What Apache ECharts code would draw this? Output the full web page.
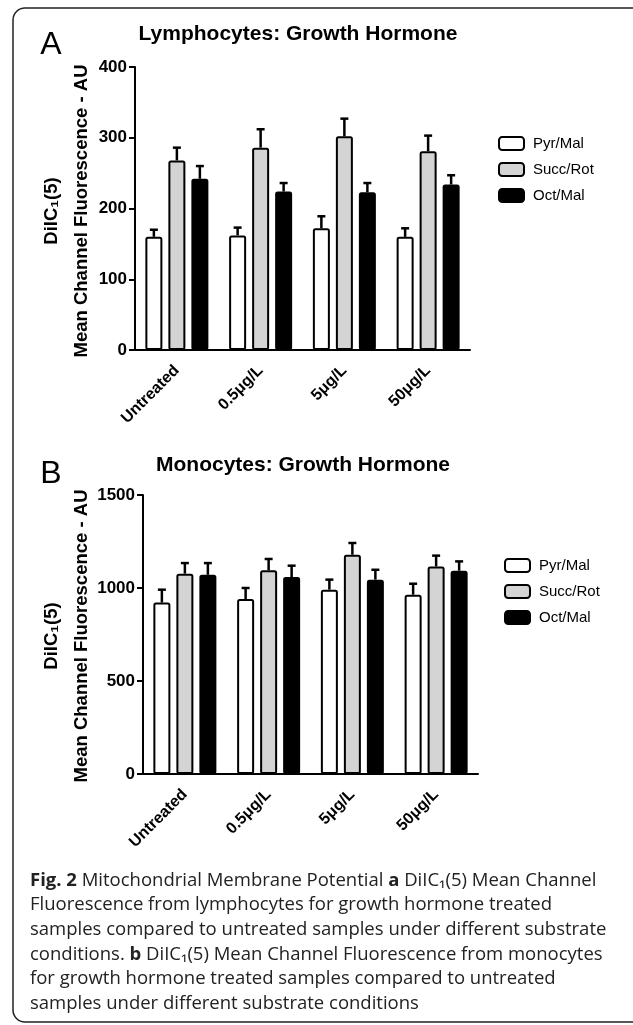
<!DOCTYPE html>
<html>
<head>
<meta charset="utf-8">
<script src="https://cdn.jsdelivr.net/npm/echarts@6/dist/echarts.min.js"></script>
<style>html,body{margin:0;padding:0;background:#fff;}#c{width:633px;height:1025px;}</style>
</head>
<body>
<div id="c"></div>
<script>
// ---- data ----
var categories = ['Untreated', '0.5\u03bcg/L', '5\u03bcg/L', '50\u03bcg/L'];
var seriesNames = ['Pyr/Mal', 'Succ/Rot', 'Oct/Mal'];
// Lymphocytes (A)
var lymphPyr = [160, 162, 172, 160];
var lymphPyrErr = [10, 11, 17, 12];
var lymphSucc = [268, 286, 302, 281];
var lymphSuccErr = [18, 26, 25, 22];
var lymphOct = [242, 224, 223, 234];
var lymphOctErr = [18, 12, 13, 13];
// Monocytes (B)
var monoPyr = [922, 941, 991, 964];
var monoPyrErr = [69, 59, 54, 59];
var monoSucc = [1077, 1095, 1179, 1116];
var monoSuccErr = [57, 61, 63, 58];
var monoOct = [1071, 1059, 1045, 1093];
var monoOctErr = [63, 61, 53, 50];
var yTicksA = {min: 0, max: 400, interval: 100};
var yTicksB = {min: 0, max: 1500, interval: 500};

// ---- styles ----
var FONT = 'Liberation Sans';
var CAPFONT = 'Open Sans';
var colors = ['#ffffff', '#d4d4d4', '#000000'];
var BAR_W = 17, BAR_GAP = 6;

var chart = echarts.init(document.getElementById('c'), null, {renderer: 'canvas'});

function axisX(i) {
  return {
    type: 'category', gridIndex: i, data: categories,
    axisLine: {lineStyle: {color: '#000', width: 2}},
    axisTick: {alignWithLabel: true, length: 6, lineStyle: {color: '#000', width: 2}},
    axisLabel: {rotate: 45, fontSize: 16, fontWeight: 'bold', color: '#000', fontFamily: FONT, margin: 18},
    splitLine: {show: false}
  };
}
function axisY(i, t) {
  return {
    type: 'value', gridIndex: i, min: t.min, max: t.max, interval: t.interval,
    axisLine: {show: true, lineStyle: {color: '#000', width: 2}},
    axisTick: {show: true, length: 6, lineStyle: {color: '#000', width: 2}},
    axisLabel: {fontSize: 17, fontWeight: 'bold', color: '#000', fontFamily: FONT, margin: 8,
      formatter: function (v) { return String(v); }},
    splitLine: {show: false}
  };
}
function barSeries(name, idx, gi, data) {
  return {
    type: 'bar', name: name, xAxisIndex: gi, yAxisIndex: gi, data: data,
    barWidth: BAR_W, barGap: (BAR_GAP / BAR_W * 100) + '%',
    itemStyle: {color: colors[idx], borderColor: '#000', borderWidth: 2, borderRadius: 1.5},
    z: 2
  };
}
function errSeries(gi, means, errs) {
  var d = [];
  for (var s = 0; s < means.length; s++) {
    for (var c = 0; c < means[s].length; c++) {
      d.push([c, means[s][c], means[s][c] + errs[s][c], s]);
    }
  }
  return {
    type: 'custom', xAxisIndex: gi, yAxisIndex: gi, data: d, z: 3,
    encode: {x: 0, y: [1, 2]},
    renderItem: function (params, api) {
      var off = (api.value(3) - 1) * (BAR_W + BAR_GAP);
      var p1 = api.coord([api.value(0), api.value(1)]);
      var p2 = api.coord([api.value(0), api.value(2)]);
      var x = p1[0] + off;
      return {
        type: 'group',
        children: [
          {type: 'line', shape: {x1: x, y1: p1[1], x2: x, y2: p2[1]}, style: {stroke: '#000', lineWidth: 2.5}},
          {type: 'line', shape: {x1: x - 4, y1: p2[1], x2: x + 4, y2: p2[1]}, style: {stroke: '#000', lineWidth: 2.5}}
        ]
      };
    }
  };
}
function legendAt(left, top) {
  return {
    data: seriesNames, orient: 'vertical', left: left, top: top,
    itemWidth: 25, itemHeight: 13, itemGap: 11, icon: 'roundRect', selectedMode: false,
    textStyle: {fontSize: 15, fontFamily: FONT, color: '#000', padding: [0, 0, 0, 4]}
  };
}
var yTitle = 'DiIC\u2081(5)\nMean Channel Fluorescence - AU';
var caption = [
  '{b|Fig. 2} Mitochondrial Membrane Potential {b|a} DiIC\u2081(5) Mean Channel',
  'Fluorescence from lymphocytes for growth hormone treated',
  'samples compared to untreated samples under different substrate',
  'conditions. {b|b} DiIC\u2081(5) Mean Channel Fluorescence from monocytes',
  'for growth hormone treated samples compared to untreated',
  'samples under different substrate conditions'
].join('\n');
var CAPSIZE = 18.5;

var option = {
  animation: false,
  backgroundColor: '#fff',
  grid: [
    {left: 135, top: 67, width: 335, height: 283},
    {left: 143, top: 495, width: 335, height: 279}
  ],
  xAxis: [axisX(0), axisX(1)],
  yAxis: [axisY(0, yTicksA), axisY(1, yTicksB)],
  legend: [legendAt(493, 131), legendAt(499, 553)],
  series: [
    barSeries(seriesNames[0], 0, 0, lymphPyr),
    barSeries(seriesNames[1], 1, 0, lymphSucc),
    barSeries(seriesNames[2], 2, 0, lymphOct),
    errSeries(0, [lymphPyr, lymphSucc, lymphOct], [lymphPyrErr, lymphSuccErr, lymphOctErr]),
    barSeries(seriesNames[0], 0, 1, monoPyr),
    barSeries(seriesNames[1], 1, 1, monoSucc),
    barSeries(seriesNames[2], 2, 1, monoOct),
    errSeries(1, [monoPyr, monoSucc, monoOct], [monoPyrErr, monoSuccErr, monoOctErr])
  ],
  graphic: [
    {type: 'rect', shape: {x: 13, y: 8, width: 640, height: 1014, r: 12}, style: {fill: 'none', stroke: '#222', lineWidth: 1.5}, silent: true},
    {type: 'text', x: 51, y: 45, style: {text: 'A', fontSize: 32, fontFamily: FONT, fill: '#000', align: 'center', verticalAlign: 'middle'}},
    {type: 'text', x: 51, y: 474, style: {text: 'B', fontSize: 32, fontFamily: FONT, fill: '#000', align: 'center', verticalAlign: 'middle'}},
    {type: 'text', x: 298, y: 34, style: {text: 'Lymphocytes: Growth Hormone', fontSize: 21, fontWeight: 'bold', fontFamily: FONT, fill: '#000', align: 'center', verticalAlign: 'middle'}},
    {type: 'text', x: 303, y: 465, style: {text: 'Monocytes: Growth Hormone', fontSize: 21, fontWeight: 'bold', fontFamily: FONT, fill: '#000', align: 'center', verticalAlign: 'middle'}},
    {type: 'text', x: 67, y: 211, rotation: Math.PI / 2, style: {text: yTitle, fontSize: 18.5, fontWeight: 'bold', fontFamily: FONT, fill: '#000', lineHeight: 30, align: 'center', verticalAlign: 'middle'}},
    {type: 'text', x: 67, y: 636, rotation: Math.PI / 2, style: {text: yTitle, fontSize: 18.5, fontWeight: 'bold', fontFamily: FONT, fill: '#000', lineHeight: 30, align: 'center', verticalAlign: 'middle'}},
    {type: 'text', x: 30, y: 868, style: {
      text: caption, fontSize: CAPSIZE, fontFamily: CAPFONT, fill: '#222', lineHeight: 24.7,
      rich: {
        b: {fontSize: CAPSIZE, fontWeight: 'bold', fontFamily: CAPFONT, fill: '#222', lineHeight: 24.7}
      }
    }}
  ]
};
chart.setOption(option);
</script>
</body>
</html>
